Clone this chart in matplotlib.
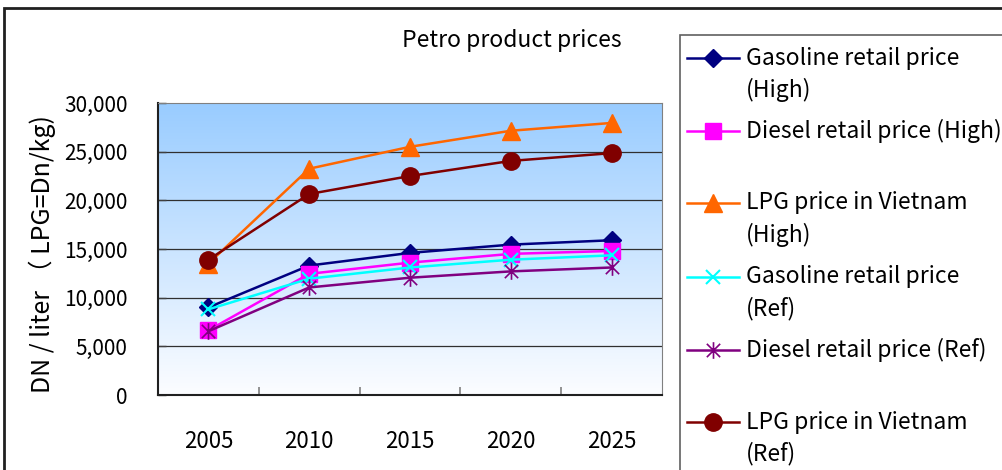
import numpy as np
import matplotlib.pyplot as plt
from matplotlib.path import Path
from matplotlib.lines import Line2D
from matplotlib.patches import Rectangle

plt.rcParams['font.family'] = ['Noto Sans CJK JP', 'DejaVu Sans']

# data (DN per liter, LPG in DN per kg)
years = ['2005', '2010', '2015', '2020', '2025']
gasoline_high = [9000, 13300, 14600, 15450, 15900]
diesel_high = [6650, 12450, 13600, 14500, 14800]
lpg_high = [13500, 23250, 25500, 27150, 27950]
gasoline_ref = [8800, 11950, 13100, 13900, 14350]
diesel_ref = [6550, 11050, 12050, 12700, 13100]
lpg_ref = [13900, 20650, 22500, 24050, 24850]

series_labels = ['Gasoline retail price\n(High)',
                 'Diesel retail price (High)',
                 'LPG price in Vietnam\n(High)',
                 'Gasoline retail price\n(Ref)',
                 'Diesel retail price (Ref)',
                 'LPG price in Vietnam\n(Ref)']

# X plus vertical bar, like the spreadsheet "star" marker
star = Path([(-1, -1), (1, 1), (-1, 1), (1, -1), (0, -1.25), (0, 1.25)],
            [Path.MOVETO, Path.LINETO, Path.MOVETO, Path.LINETO, Path.MOVETO, Path.LINETO])

styles = [
    dict(color='#000080', marker='D', ms=9.5, mfc='#000080', mec='#000080'),
    dict(color='#FF00FF', marker='s', ms=11, mfc='#FF00FF', mec='#FF00FF'),
    dict(color='#FF6600', marker='^', ms=13.5, mfc='#FF6600', mec='#FF6600'),
    dict(color='#00FFFF', marker='x', ms=10, mec='#00FFFF', mew=1.5),
    dict(color='#800080', marker=star, ms=12, mfc='none', mec='#800080', mew=1.2),
    dict(color='#800000', marker='o', ms=12.5, mfc='#800000', mec='#800000'),
]
values = [gasoline_high, diesel_high, lpg_high, gasoline_ref, diesel_ref, lpg_ref]

W, H = 1003, 470
fig = plt.figure(figsize=(W / 100, H / 100), dpi=100)
ax = fig.add_axes([158 / W, 1 - 395 / H, (662 - 158) / W, (395 - 103) / H])

# blue-to-white gradient behind the plot
grad = np.linspace(0, 1, 256)[:, None]
top = np.array([153, 204, 255]) / 255
bot = np.array([252, 253, 255]) / 255
img = top[None, None, :] * (1 - grad[:, :, None]) + bot[None, None, :] * grad[:, :, None]
ax.imshow(img, extent=[0, 1, 0, 1], transform=ax.transAxes, aspect='auto', zorder=0)

x = np.arange(len(years))
for vals, st in zip(values, styles):
    ax.plot(x, vals, lw=1.8, zorder=3, **st)

ax.set_xlim(-0.5, len(years) - 0.5)
ax.set_ylim(0, 30000)
ax.set_yticks(range(0, 30001, 5000))
ax.set_yticklabels([f'{v:,}' for v in range(0, 30001, 5000)], fontsize=15)
ax.set_xticks(x)
ax.set_xticklabels(years, fontsize=16)
ax.set_xticks(np.arange(0.5, len(years) - 1, 1), minor=True)
ax.tick_params(axis='x', which='major', length=0, pad=25)
ax.tick_params(axis='x', which='minor', direction='in', length=6, color='#808080', width=1.2)
ax.tick_params(axis='y', direction='in', length=6, color='#404040', width=1, pad=22)
for yv in range(5000, 30000, 5000):
    ax.axhline(yv, color='#303030', lw=0.9, zorder=1)
for side in ['top', 'right']:
    ax.spines[side].set_color('#808080')
for side in ['left', 'bottom']:
    ax.spines[side].set_color('#202020')
    ax.spines[side].set_linewidth(1.5)

fig.text(42 / W, 1 - 254 / H, 'DN / liter （ LPG=Dn/kg)', rotation=90,
         ha='center', va='center', fontsize=18)
fig.text(512 / W, 1 - 40 / H, 'Petro product prices', ha='center', va='center', fontsize=16.5)

# legend panel
fig.patches.append(Rectangle((680 / W, -0.1), 1.0, 1.1 - 35 / H, transform=fig.transFigure,
                             fill=False, edgecolor='#606060', lw=1.2))
fig.patches.append(Rectangle((4 / W, -0.1), 1.0, 1.1 - 8 / H, transform=fig.transFigure,
                             fill=False, edgecolor='#202020', lw=2))
entry_y = [58, 131, 203, 277, 350, 422]
for label, st, yy in zip(series_labels, styles, entry_y):
    fy = 1 - yy / H
    fig.add_artist(Line2D([687 / W, 739 / W], [fy, fy], lw=1.8, color=st['color']))
    mst = {k: v for k, v in st.items() if k != 'color'}
    fig.add_artist(Line2D([713 / W], [fy], lw=0, **mst))
    for i, line in enumerate(label.split('\n')):
        fig.text(746 / W, 1 - (yy + i * 32) / H, line, ha='left', va='center', fontsize=16.5)

fig.savefig('out.png', dpi=100)
